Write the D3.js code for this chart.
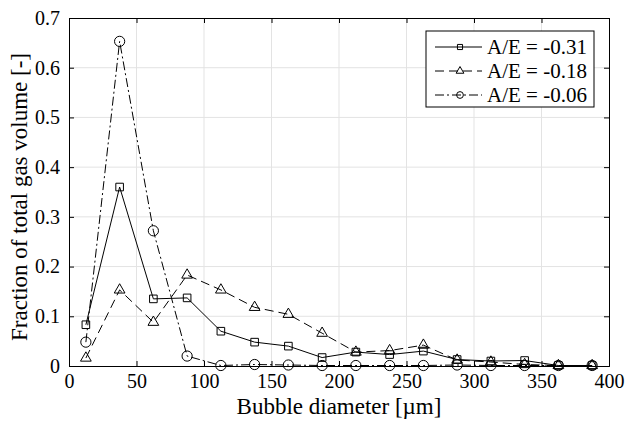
<!DOCTYPE html>
<html>
<head>
<meta charset="utf-8">
<script src="https://cdn.jsdelivr.net/npm/d3@7"></script>
<style>
  body { margin: 0; background: #fff; }
  svg text { font-family: "Liberation Serif", "Times New Roman", serif; }
</style>
</head>
<body>
<svg width="627" height="428"></svg>
<script>
    // Bin centres (µm)
    const diameters = [12.5, 37.5, 62.5, 87.5, 112.5, 137.5, 162.5, 187.5, 212.5, 237.5, 262.5, 287.5, 312.5, 337.5, 362.5, 387.5];
    const seriesA = [0.083, 0.360, 0.135, 0.137, 0.070, 0.048, 0.040, 0.017, 0.028, 0.023, 0.030, 0.013, 0.010, 0.011, 0.001, 0.001];
    const seriesB = [0.016, 0.153, 0.088, 0.183, 0.153, 0.118, 0.104, 0.066, 0.028, 0.031, 0.042, 0.012, 0.008, 0.003, 0.001, 0.001];
    const seriesC = [0.048, 0.653, 0.272, 0.020, 0.001, 0.003, 0.002, 0.001, 0.001, 0.001, 0.001, 0.002, 0.001, 0.001, 0.001, 0.001];
    const labels = ["A/E = -0.31", "A/E = -0.18", "A/E = -0.06"];
    const xTicks = [0, 50, 100, 150, 200, 250, 300, 350, 400];
    const yTicks = [0, 0.1, 0.2, 0.3, 0.4, 0.5, 0.6, 0.7];

    const FONT = "Liberation Serif";

    const margin = { top: 18, right: 18, bottom: 62, left: 69 },
      width = 627 - margin.left - margin.right,
      height = 428 - margin.top - margin.bottom;

    const svg = d3.select("svg")
      .append("g")
      .attr("transform", `translate(${margin.left}, ${margin.top})`);

    const xScale = d3.scaleLinear().domain([0, 400]).range([0, width]);
    const yScale = d3.scaleLinear().domain([0, 0.7]).range([height, 0]);

    // Grid
    svg.append("g").selectAll("line").data(xTicks.slice(1, -1)).enter().append("line")
      .attr("x1", d => xScale(d)).attr("x2", d => xScale(d))
      .attr("y1", 0).attr("y2", height)
      .attr("stroke", "#e3e3e3").attr("stroke-width", 1);
    svg.append("g").selectAll("line").data(yTicks.slice(1, -1)).enter().append("line")
      .attr("y1", d => yScale(d)).attr("y2", d => yScale(d))
      .attr("x1", 0).attr("x2", width)
      .attr("stroke", "#e3e3e3").attr("stroke-width", 1);

    // Axes (ticks pointing in, on all four sides)
    const fmtY = d => d === 0 ? "0" : d3.format(".1f")(d);
    svg.append("g").attr("transform", `translate(0, ${height})`)
      .call(d3.axisBottom(xScale).tickValues(xTicks).tickSize(-5).tickPadding(8));
    svg.append("g")
      .call(d3.axisLeft(yScale).tickValues(yTicks).tickFormat(fmtY).tickSize(-5).tickPadding(9));
    svg.append("g").call(d3.axisTop(xScale).tickValues(xTicks).tickSize(-5).tickFormat(""));
    svg.append("g").attr("transform", `translate(${width}, 0)`)
      .call(d3.axisRight(yScale).tickValues(yTicks).tickSize(-5).tickFormat(""));
    svg.selectAll("g").attr("font-family", null);
    svg.selectAll(".domain").attr("stroke", "#000");
    svg.selectAll(".tick line").attr("stroke", "#000");
    svg.selectAll(".tick text")
      .style("font-family", FONT).attr("font-size", 20).attr("fill", "#000");

    // Axis labels
    svg.append("text")
      .attr("x", width / 2)
      .attr("y", height + 48)
      .attr("text-anchor", "middle")
      .style("font-family", FONT).attr("font-size", 23)
      .text("Bubble diameter [µm]");
    svg.append("text")
      .attr("transform", "rotate(-90)")
      .attr("x", -height / 2 - 5)
      .attr("y", -42)
      .attr("text-anchor", "middle")
      .style("font-family", FONT).attr("font-size", 23)
      .text("Fraction of total gas volume [-]");

    const series = [
      { values: seriesA, dash: null, marker: d3.symbolSquare, size: 58, legSize: 26 },
      { values: seriesB, dash: "9,5", marker: d3.symbolTriangle, size: 50, legSize: 26 },
      { values: seriesC, dash: "9,3,2,3", marker: d3.symbolCircle, size: 82, legSize: 36 }
    ];

    const line = d3.line()
      .x((d, i) => xScale(diameters[i]))
      .y(d => yScale(d));

    series.forEach(s => {
      svg.append("path")
        .datum(s.values)
        .attr("fill", "none")
        .attr("stroke", "#000")
        .attr("stroke-width", 1)
        .attr("stroke-dasharray", s.dash)
        .attr("d", line);
      svg.append("g").selectAll("path").data(s.values).enter().append("path")
        .attr("transform", (d, i) => `translate(${xScale(diameters[i])}, ${yScale(d)})`)
        .attr("d", d3.symbol().type(s.marker).size(s.size))
        .attr("fill", "none")
        .attr("stroke", "#000")
        .attr("stroke-width", 1);
    });

    // Legend
    const legend = svg.append("g").attr("transform", `translate(${426 - margin.left}, ${31 - margin.top})`);
    legend.append("rect")
      .attr("width", 168).attr("height", 76)
      .attr("fill", "#fff").attr("stroke", "#000");
    series.forEach((s, i) => {
      const row = legend.append("g").attr("transform", `translate(0, ${16 + i * 24})`);
      row.append("line")
        .attr("x1", 9).attr("x2", 56)
        .attr("stroke", "#000").attr("stroke-dasharray", s.dash);
      row.append("path")
        .attr("transform", "translate(34, 0)")
        .attr("d", d3.symbol().type(s.marker).size(s.legSize))
        .attr("fill", "none").attr("stroke", "#000");
      row.append("text")
        .attr("x", 61).attr("y", 7)
        .style("font-family", FONT).attr("font-size", 21)
        .text(labels[i]);
    });
</script>
</body>
</html>
